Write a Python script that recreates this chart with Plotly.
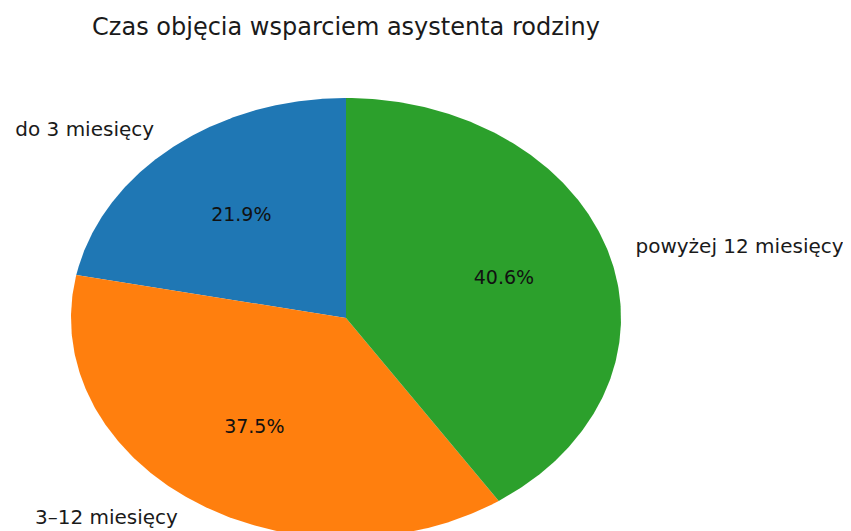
import numpy as np
import plotly.graph_objects as go

# Data
categories = ["do 3 miesięcy", "3–12 miesięcy", "powyżej 12 miesięcy"]
counts = [7, 12, 13]
colors = ["#1f77b4", "#ff7f0e", "#2ca02c"]
title_text = "Czas objęcia wsparciem asystenta rodziny"

W, H = 851, 531
off = 8                       # default page body margin
cx_px, cy_px = 346 - off, 318 - off   # pie centre in figure pixels
rx_px, ry_px = 275, 220       # ellipse radii in pixels

total = float(sum(counts))
fracs = [c / total for c in counts]

fig = go.Figure()
font_family = "DejaVu Sans, sans-serif"

start = 90.0
mids = []
for frac, col, name in zip(fracs, colors, categories):
    sweep = frac * 360.0
    th = np.radians(np.linspace(start, start + sweep, 240))
    xs = np.concatenate([[0.0], np.cos(th), [0.0]])
    ys = np.concatenate([[0.0], np.sin(th), [0.0]])
    fig.add_trace(go.Scatter(x=xs, y=ys, fill="toself", fillcolor=col,
                             mode="lines", line=dict(width=0, color=col),
                             hoverinfo="skip", showlegend=False, name=name))
    mids.append(np.radians(start + sweep / 2.0))
    start += sweep

# labels outside (1.1 radius) and percentages (0.6 radius)
for frac, name, m in zip(fracs, categories, mids):
    lx, ly = 1.1 * np.cos(m), 1.1 * np.sin(m)
    fig.add_trace(go.Scatter(x=[lx], y=[ly], mode="text", text=[name],
                             textposition="middle right" if lx > 0 else "middle left",
                             textfont=dict(family=font_family, size=20, color="#1a1a1a"),
                             hoverinfo="skip", showlegend=False))
    px_, py_ = 0.6 * np.cos(m), 0.6 * np.sin(m)
    fig.add_trace(go.Scatter(x=[px_], y=[py_], mode="text", text=[f"{frac*100:.1f}%"],
                             textposition="middle center",
                             textfont=dict(family=font_family, size=19, color="#111111"),
                             hoverinfo="skip", showlegend=False))

x_range = [-cx_px / rx_px, (W - cx_px) / rx_px]
y_range = [-(H - cy_px) / ry_px, cy_px / ry_px]

fig.update_layout(
    width=W, height=H,
    margin=dict(l=0, r=0, t=0, b=0),
    paper_bgcolor="white", plot_bgcolor="white",
    title=dict(text=title_text, x=cx_px / W, xanchor="center",
               y=1 - (27 - off) / H, yanchor="middle",
               font=dict(family=font_family, size=24, color="#1a1a1a")),
    xaxis=dict(range=x_range, visible=False, fixedrange=True),
    yaxis=dict(range=y_range, visible=False, fixedrange=True),
    showlegend=False,
)

fig.write_html("out.html")
